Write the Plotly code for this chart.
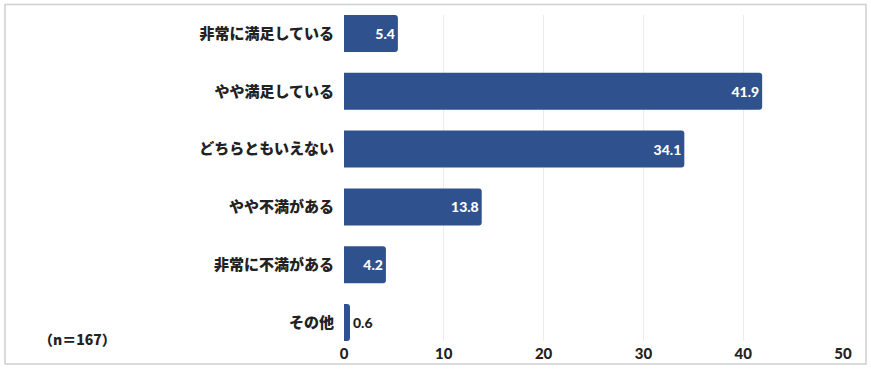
import plotly.graph_objects as go

categories = ["非常に満足している", "やや満足している", "どちらともいえない", "やや不満がある", "非常に不満がある", "その他"]
values = [5.4, 41.9, 34.1, 13.8, 4.2, 0.6]
x_ticks = [0, 10, 20, 30, 40, 50]
note = "（n＝167）"

bar_color = "#2f528f"
positions = ["inside" if v > 2 else "outside" for v in values]

fig = go.Figure(go.Bar(
    x=values, y=categories, orientation="h",
    marker=dict(color=bar_color, cornerradius=3, line=dict(width=0)),
    width=0.64,
    text=[f"{v:.1f}" for v in values],
    textposition=positions,
    insidetextanchor="end",
    insidetextfont=dict(color="white", size=14, family="Lato, Roboto, sans-serif", weight=900),
    outsidetextfont=dict(color="#222222", size=14, family="Lato, Roboto, sans-serif", weight=900),
    textangle=0,
    cliponaxis=False,
))

plot_l, plot_r, plot_t, plot_b = 344, 843, 15, 341
W, H = 871, 369
pw, ph = plot_r - plot_l, plot_b - plot_t

def px_x(x):
    return (x - plot_l) / pw

def px_y(y):
    return (plot_b - y) / ph

fig.update_layout(
    width=W, height=H,
    margin=dict(l=plot_l, r=W - plot_r, t=plot_t, b=H - plot_b),
    plot_bgcolor="white", paper_bgcolor="white",
    showlegend=False,
    xaxis=dict(range=[0, 50], tickvals=x_ticks, showgrid=True, gridcolor="#ececec", gridwidth=1,
               zeroline=False, showline=False, ticks="", automargin=False,
               ticklabelstandoff=2,
               tickfont=dict(size=15, color="#222222", family="Lato, Roboto, sans-serif", weight=900)),
    yaxis=dict(categoryorder="array", categoryarray=categories, autorange=False,
               range=[5.32, -0.32], showgrid=False, zeroline=False, showline=False, ticks="",
               ticklabelstandoff=9, automargin=False,
               tickfont=dict(size=15, color="#222222", family="Noto Sans CJK JP", weight=900)),
    shapes=[dict(type="rect", xref="paper", yref="paper",
                 x0=px_x(5), x1=px_x(866), y0=px_y(364), y1=px_y(4.5),
                 line=dict(color="#d0d0d0", width=1.5), fillcolor="rgba(0,0,0,0)", layer="below")],
    annotations=[dict(text=note, xref="paper", yref="paper", x=px_x(37), y=px_y(339),
                      xanchor="left", yanchor="middle", showarrow=False,
                      font=dict(size=14, color="#222222", family="Noto Sans CJK JP", weight=900))],
)

fig.write_html("out.html", config={"displayModeBar": False},
               post_script="document.body.style.margin='0';document.body.style.padding='0';")
